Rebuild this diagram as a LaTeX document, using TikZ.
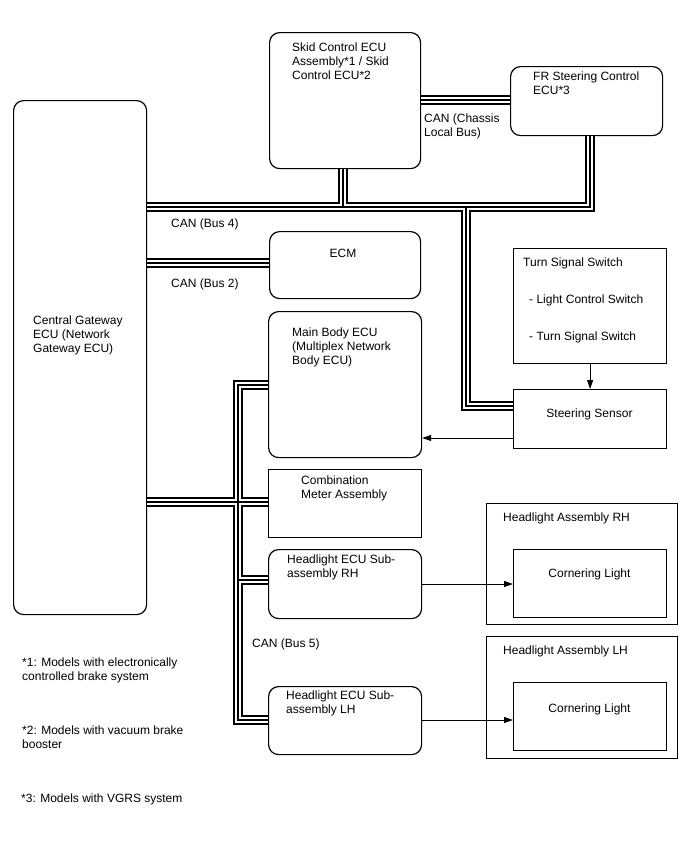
\documentclass[tikz,border=0pt]{standalone}
\usepackage{fontspec}
\setmainfont{Liberation Sans}
\usetikzlibrary{arrows.meta}
\newcommand\fsz{\fontsize{12}{14}\selectfont}
\newcommand\busnet[1]{%
  \draw[#1] (gw.east |- yB4) -- (yB4) -- (yB4 |- fr.south);
  \draw[#1] (skid.south -| jSkid) -- (jSkid);
  \draw[#1] (jSS) -- (cSS) -- (ss.west |- cSS);
  \draw[#1] (skid.east |- yCh) -- (fr.west |- yCh);
  \draw[#1] (gw.east |- yB2) -- (ecm.west |- yB2);
  \draw[#1] (gw.east |- xB5) -- (cm.west |- xB5);
  \draw[#1] (mb.west |- cMB) -- (cMB) -- (cLH) -- (hlh.west |- cLH);
  \draw[#1] (jRH) -- (hrh.west |- jRH);
}
\begin{document}
\begin{tikzpicture}[x=1pt,y=-1pt,
  every node/.style={font=\fsz},
  rbox/.style={draw, line width=1.2pt, rounded corners=10pt, inner sep=0pt, anchor=north west},
  sbox/.style={draw, line width=1.2pt, inner sep=0pt, anchor=north west},
  lbl/.style={anchor=north west, inner sep=0pt, align=left},
  clbl/.style={anchor=base, inner sep=0pt},
  busA/.style={line width=10pt, black, line join=miter, line cap=butt},
  busB/.style={line width=5.4pt, white, line join=miter, line cap=butt},
  busC/.style={line width=1.2pt, black, line join=miter, line cap=butt},
  arr/.style={line width=1pt, -{Triangle[length=9pt,width=6pt]}}]
\useasboundingbox[fill=white] (0,0) rectangle (688,852);
% boxes
\node[rbox, minimum width=133pt, minimum height=514pt] (gw) at (13,100) {};
\node[rbox, minimum width=151pt, minimum height=136pt] (skid) at (269,32) {};
\node[rbox, minimum width=152pt, minimum height=69pt] (fr) at (510,66) {};
\node[rbox, minimum width=151pt, minimum height=67pt] (ecm) at (269,231) {};
\node[rbox, minimum width=153pt, minimum height=146pt] (mb) at (268,311) {};
\node[sbox, minimum width=153pt, minimum height=68pt] (cm) at (268,469) {};
\node[rbox, minimum width=153pt, minimum height=69pt] (hrh) at (268,549) {};
\node[rbox, minimum width=153pt, minimum height=68pt] (hlh) at (268,686) {};
\node[sbox, minimum width=153pt, minimum height=115pt] (tss) at (513,248) {};
\node[sbox, minimum width=153pt, minimum height=59pt] (ss) at (513,389) {};
\node[sbox, minimum width=191pt, minimum height=121pt] (harh) at (486,503) {};
\node[sbox, minimum width=153pt, minimum height=68pt] (clr) at (513,549) {};
\node[sbox, minimum width=191pt, minimum height=122pt] (halh) at (486,636) {};
\node[sbox, minimum width=153pt, minimum height=68pt] (cll) at (513,682) {};
% bus coordinates
\coordinate (yCh) at (465,100);
\coordinate (yB4) at (590,207);
\coordinate (jSkid) at (343,207);
\coordinate (jSS) at (466,207);
\coordinate (cSS) at (466,406);
\coordinate (yB2) at (200,263);
\coordinate (xB5) at (238,502);
\coordinate (cMB) at (238,385);
\coordinate (jRH) at (238,580);
\coordinate (cLH) at (238,720);
\coordinate (aSS) at (470,438);
\coordinate (aRH) at (460,584);
\coordinate (aLH) at (460,720);
% buses
\busnet{busA}
\busnet{busB}
\busnet{busC}
% arrows
\draw[arr] (tss.south) -- (ss.north);
\draw[arr] (ss.west |- aSS) -- (mb.east |- aSS);
\draw[arr] (hrh.east |- aRH) -- (clr.west |- aRH);
\draw[arr] (hlh.east |- aLH) -- (cll.west |- aLH);
% labels
\node[lbl] (tgw) at (33,316) {Central Gateway\\ECU (Network\\Gateway ECU)};
\node[lbl] (tskid) at (292,42.5) {Skid Control ECU\\Assembly*1 / Skid\\Control ECU*2};
\node[lbl] (tfr) at (533,71.5) {FR Steering Control\\ECU*3};
\node[lbl] (tch) at (424,113.5) {CAN (Chassis\\Local Bus)};
\node[lbl] (tb4) at (171,218.5) {CAN (Bus 4)};
\node[clbl] (tecm) at (343,257.3) {ECM};
\node[lbl] (tb2) at (171,278.5) {CAN (Bus 2)};
\node[lbl] (tmb) at (292,327.5) {Main Body ECU\\(Multiplex Network\\Body ECU)};
\node[lbl] (tcm) at (301,475.5) {Combination\\Meter Assembly};
\node[lbl] (ttss) at (523,257.5) {Turn Signal Switch};
\node[lbl] (tlcs) at (529,294.5) {- Light Control Switch};
\node[lbl] (ttss2) at (529,331.5) {- Turn Signal Switch};
\node[clbl] (tss2) at (589.5,417.3) {Steering Sensor};
\node[lbl] (thrh) at (287,554.5) {Headlight ECU Sub-\\assembly RH};
\node[lbl] (thlh) at (286,690.5) {Headlight ECU Sub-\\assembly LH};
\node[lbl] (tb5) at (252,638.5) {CAN (Bus 5)};
\node[lbl] (tharh) at (503,512.5) {Headlight Assembly RH};
\node[lbl] (thalh) at (503,645.5) {Headlight Assembly LH};
\node[clbl] (tclr) at (589.5,577.3) {Cornering Light};
\node[clbl] (tcll) at (589.5,712.3) {Cornering Light};
\node[lbl] (fn1) at (22,658) {*1: Models with electronically\\controlled brake system};
\node[lbl] (fn2) at (22,725.5) {*2: Models with vacuum brake\\booster};
\node[lbl] (fn3) at (21,793.5) {*3: Models with VGRS system};
\end{tikzpicture}
\end{document}
